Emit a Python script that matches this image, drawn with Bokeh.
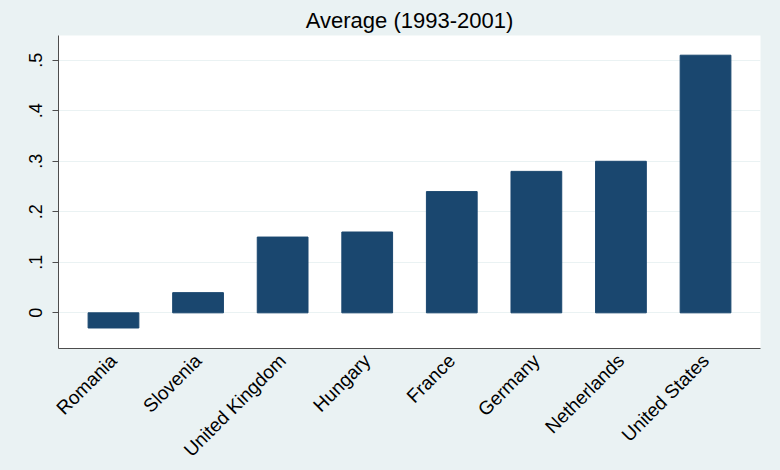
from bokeh.plotting import figure
from bokeh.models import FactorRange, FixedTicker, CustomJSTickFormatter, Title
from bokeh.embed import file_html
from bokeh.resources import INLINE
import math

countries = ["Romania", "Slovenia", "United Kingdom", "Hungary", "France",
             "Germany", "Netherlands", "United States"]
values = [-0.03, 0.04, 0.15, 0.16, 0.24, 0.28, 0.30, 0.51]
y_ticks = [0, 0.1, 0.2, 0.3, 0.4, 0.5]
title_text = "Average (1993-2001)"

BG = "#eaf2f3"
BAR = "#1a476f"
AXC = "#4d4d4d"
FONT = "Liberation Sans"

p = figure(width=780, height=470, output_backend="svg", toolbar_location=None,
           x_range=FactorRange(*countries, range_padding=0.0375, range_padding_units="percent"),
           y_range=(-0.0706, 0.549),
           min_border_left=58, min_border_right=20, min_border_top=35, min_border_bottom=119)

p.background_fill_color = "white"
p.border_fill_color = BG
p.outline_line_color = None

p.add_layout(Title(text=title_text, align="center", text_font=FONT,
                   text_font_size="22px", text_font_style="normal",
                   text_color="#000000", standoff=6), "above")

p.vbar(x=countries, top=values, bottom=0, width=0.6, fill_color=BAR, line_color=BAR)

p.xgrid.grid_line_color = None
p.ygrid.grid_line_color = BG
p.ygrid.grid_line_width = 1

p.yaxis.ticker = FixedTicker(ticks=y_ticks)
p.yaxis.formatter = CustomJSTickFormatter(code="""
    if (Math.abs(tick) < 1e-9) return "0";
    return tick.toFixed(1).replace(/^0/, "");
""")
p.yaxis.major_label_orientation = "vertical"
p.yaxis.minor_tick_line_color = None
p.yaxis.major_tick_in = 0
p.yaxis.major_tick_out = 6
p.yaxis.major_label_standoff = 10
p.yaxis.major_tick_line_color = AXC
p.yaxis.major_label_text_font_size = "18px"

p.xaxis.major_label_orientation = math.pi / 4
p.xaxis.major_tick_line_color = None
p.xaxis.major_label_standoff = 3
p.xaxis.major_label_text_font_size = "19px"

for ax in (p.xaxis, p.yaxis):
    ax.axis_line_color = AXC
    ax.major_label_text_font = FONT
    ax.major_label_text_color = "#000000"

html = file_html(p, INLINE)
html = html.replace("<head>", "<head><style>body{background:%s;}</style>" % BG, 1)
open("out.html", "w").write(html)
